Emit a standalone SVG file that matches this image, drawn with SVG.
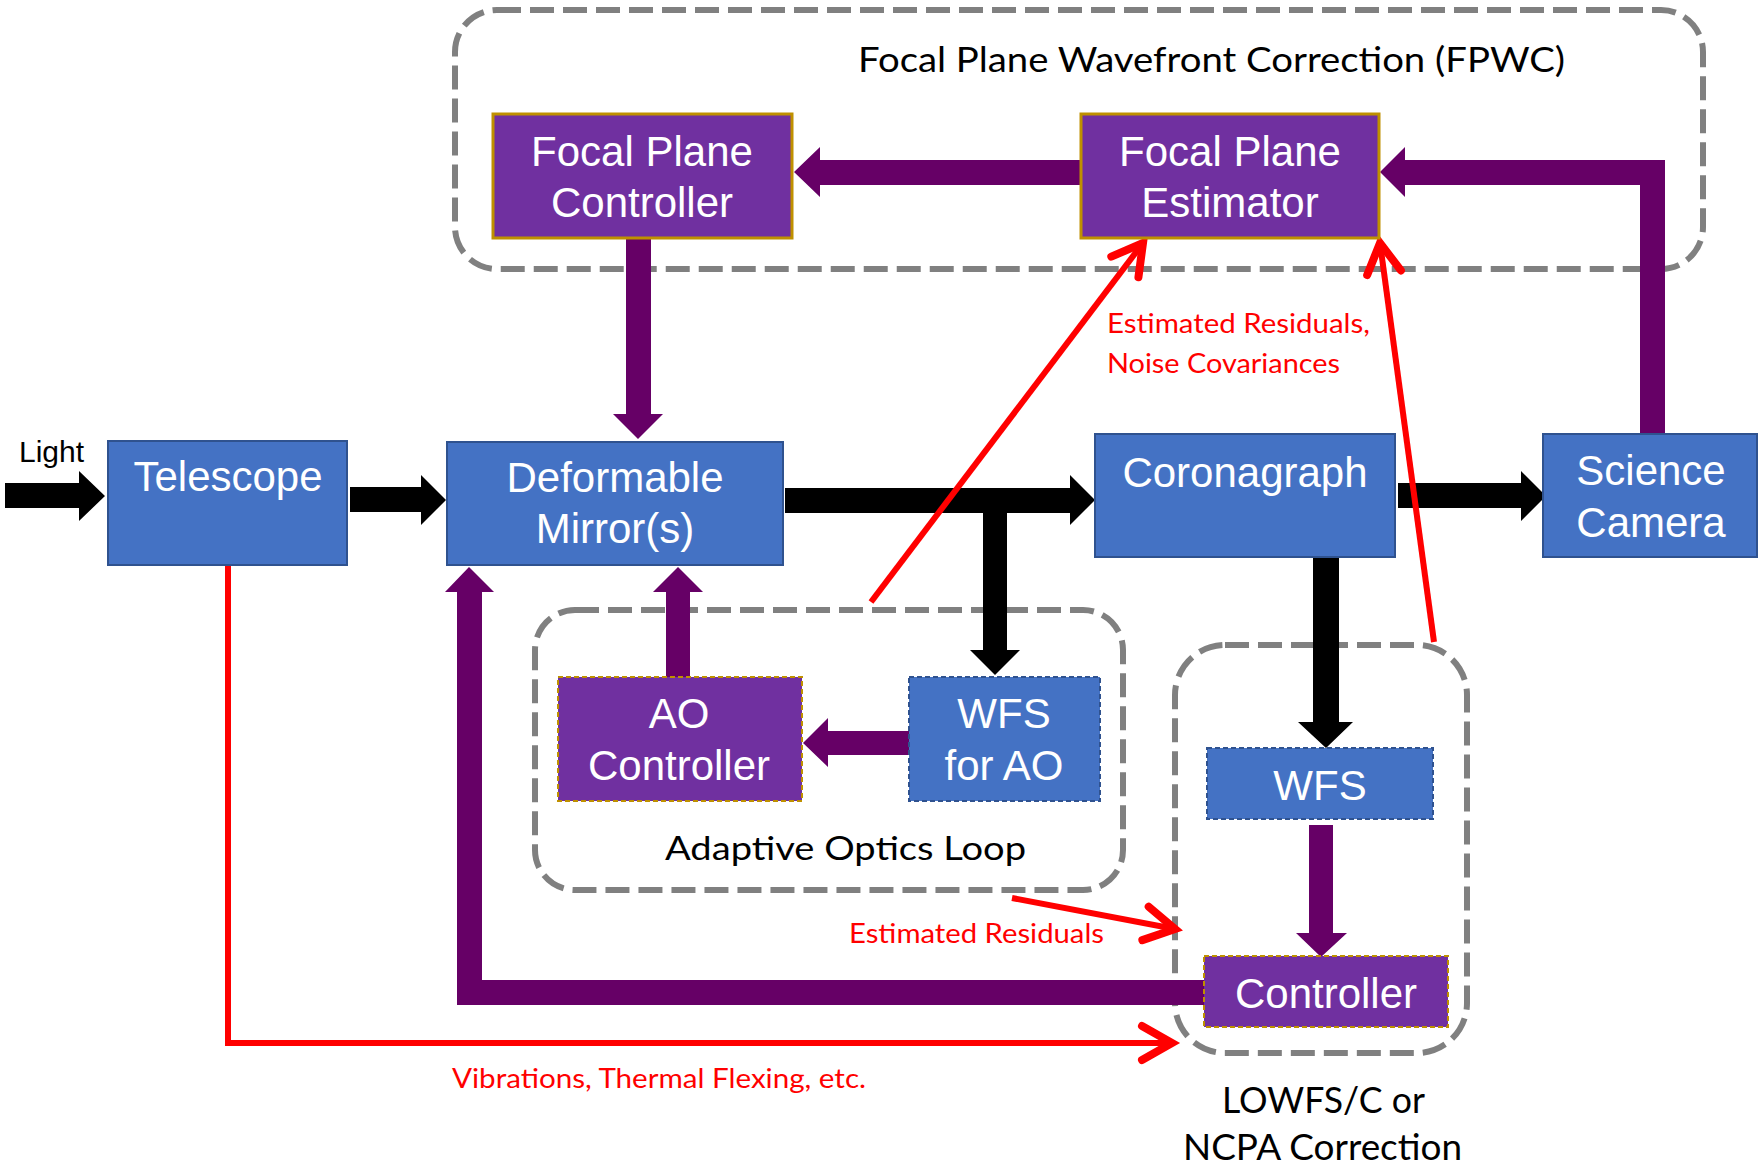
<svg xmlns="http://www.w3.org/2000/svg" width="1759" height="1168" viewBox="0 0 1759 1168">
  <style>
    .loop { fill: none; stroke: #808080; stroke-width: 6; stroke-dasharray: 24 9; }
    .blue { fill: #4472C4; stroke: #2F528F; stroke-width: 2; }
    .blue-dash { fill: #4472C4; stroke: #2F528F; stroke-width: 2; stroke-dasharray: 5 3; }
    .violet { fill: #7030A0; stroke: #BF9000; stroke-width: 3; }
    .violet-dash { fill: #7030A0; stroke: #BF9000; stroke-width: 2; stroke-dasharray: 5 3; }
    .lbl { font-family: "Liberation Sans", Arial, sans-serif; font-size: 42px; fill: #FFFFFF; text-anchor: middle; }
    .cap { font-family: Lato, "Open Sans", sans-serif; fill: #000000; }
    .note { font-family: Lato, "Open Sans", sans-serif; fill: #FF0000; font-size: 26px; }
    .beam { fill: #000000; }
    .ctrl { fill: #660066; }
    .err { fill: none; stroke: #FF0000; stroke-width: 6; }
  </style>
  <defs>
    <marker id="chevron" markerUnits="userSpaceOnUse" markerWidth="40" markerHeight="40" viewBox="-36 -20 40 40" refX="0" refY="0" orient="auto" overflow="visible">
      <path d="M -30 -17 L 0 0 L -30 17" fill="none" stroke="#FF0000" stroke-width="8" stroke-linecap="round" stroke-linejoin="miter"/>
    </marker>
  </defs>

  <rect width="1759" height="1168" fill="#FFFFFF"/>

  <!-- loop boundaries -->
  <g id="fpwc-loop">
    <rect class="loop" x="455" y="10" width="1248" height="259" rx="42" ry="42"/>
    <text class="cap" x="858" y="72" font-size="35" textLength="707" lengthAdjust="spacingAndGlyphs">Focal Plane Wavefront Correction (FPWC)</text>
  </g>
  <g id="ao-loop">
    <rect class="loop" x="535" y="610" width="588" height="280" rx="40" ry="40"/>
    <text class="cap" x="665" y="860" font-size="32" textLength="361" lengthAdjust="spacingAndGlyphs">Adaptive Optics Loop</text>
  </g>
  <g id="lowfs-loop">
    <rect class="loop" x="1175" y="645" width="292" height="408" rx="50" ry="50"/>
    <text class="cap" x="1222" y="1113" font-size="36" textLength="203" lengthAdjust="spacingAndGlyphs">LOWFS/C or</text>
    <text class="cap" x="1183" y="1160" font-size="36" textLength="279" lengthAdjust="spacingAndGlyphs">NCPA Correction</text>
  </g>

  <!-- connectors -->
  <g id="connectors">
    <!-- light path -->
    <polygon class="beam" points="5,483 79,483 79,471 105,496 79,521 79,508 5,508"/>
    <polygon class="beam" points="350,487 421,487 421,475 446,500 421,525 421,512 350,512"/>
    <polygon class="beam" points="785,488 1070,488 1070,475 1095,500 1070,525 1070,513 1007,513 1007,650 1020,650 995,675 970,650 983,650 983,513 785,513"/>
    <polygon class="beam" points="1398,483 1521,483 1521,471 1546,496 1521,521 1521,508 1398,508"/>
    <polygon class="beam" points="1313,557 1339,557 1339,722 1353,722 1326,748 1298,722 1313,722"/>

    <!-- control path -->
    <polygon class="ctrl" points="1640,434 1665,434 1665,160 1405,160 1405,147 1380,172 1405,197 1405,185 1640,185"/>
    <polygon class="ctrl" points="1081,160 820,160 820,147 794,172 820,197 820,185 1081,185"/>
    <polygon class="ctrl" points="626,238 651,238 651,414 663,414 638,439 613,414 626,414"/>
    <polygon class="ctrl" points="666,677 690,677 690,592 703,592 678,567 653,592 666,592"/>
    <polygon class="ctrl" points="909,731 828,731 828,718 803,743 828,767 828,755 909,755"/>
    <polygon class="ctrl" points="1309,825 1333,825 1333,933 1347,933 1321,957 1296,933 1309,933"/>
    <polygon class="ctrl" points="1204,980 482,980 482,592 494,592 469,567 445,592 457,592 457,1005 1204,1005"/>

    <!-- error signals -->
    <polyline class="err" points="228,565 228,1043 1172,1043" marker-end="url(#chevron)"/>
    <line class="err" x1="1012" y1="898" x2="1175" y2="929" marker-end="url(#chevron)"/>
    <line class="err" x1="871" y1="602" x2="1143" y2="243" marker-end="url(#chevron)"/>
    <line class="err" x1="1434" y1="642" x2="1380" y2="243" marker-end="url(#chevron)"/>
    <text class="note" x="1107" y="333" textLength="263" lengthAdjust="spacingAndGlyphs">Estimated Residuals,</text>
    <text class="note" x="1107" y="373" textLength="233" lengthAdjust="spacingAndGlyphs">Noise Covariances</text>
    <text class="note" x="849" y="943" textLength="255" lengthAdjust="spacingAndGlyphs">Estimated Residuals</text>
    <text class="note" x="452" y="1088" textLength="414" lengthAdjust="spacingAndGlyphs">Vibrations, Thermal Flexing, etc.</text>
  </g>

  <!-- nodes -->
  <g id="light-label">
    <text x="19" y="462" font-family="Liberation Sans, Arial, sans-serif" font-size="30" fill="#000000">Light</text>
  </g>
  <g id="telescope">
    <rect class="blue" x="108" y="441" width="239" height="124"/>
    <text class="lbl" x="228" y="491">Telescope</text>
  </g>
  <g id="deformable-mirror">
    <rect class="blue" x="447" y="442" width="336" height="123"/>
    <text class="lbl" x="615" y="492">Deformable</text>
    <text class="lbl" x="615" y="543">Mirror(s)</text>
  </g>
  <g id="coronagraph">
    <rect class="blue" x="1095" y="434" width="300" height="123"/>
    <text class="lbl" x="1245" y="487">Coronagraph</text>
  </g>
  <g id="science-camera">
    <rect class="blue" x="1543" y="434" width="214" height="123"/>
    <text class="lbl" x="1651" y="485">Science</text>
    <text class="lbl" x="1651" y="537">Camera</text>
  </g>
  <g id="focal-plane-controller">
    <rect class="violet" x="493" y="114" width="299" height="124"/>
    <text class="lbl" x="642" y="166">Focal Plane</text>
    <text class="lbl" x="642" y="217">Controller</text>
  </g>
  <g id="focal-plane-estimator">
    <rect class="violet" x="1081" y="114" width="298" height="124"/>
    <text class="lbl" x="1230" y="166">Focal Plane</text>
    <text class="lbl" x="1230" y="217">Estimator</text>
  </g>
  <g id="ao-controller">
    <rect class="violet-dash" x="558" y="677" width="244" height="124"/>
    <text class="lbl" x="679" y="728">AO</text>
    <text class="lbl" x="679" y="780">Controller</text>
  </g>
  <g id="wfs-for-ao">
    <rect class="blue-dash" x="909" y="677" width="191" height="124"/>
    <text class="lbl" x="1004" y="728">WFS</text>
    <text class="lbl" x="1004" y="780">for AO</text>
  </g>
  <g id="lowfs-wfs">
    <rect class="blue-dash" x="1207" y="748" width="226" height="71"/>
    <text class="lbl" x="1320" y="800">WFS</text>
  </g>
  <g id="lowfs-controller">
    <rect class="violet-dash" x="1204" y="956" width="244" height="71"/>
    <text class="lbl" x="1326" y="1008">Controller</text>
  </g>
</svg>
